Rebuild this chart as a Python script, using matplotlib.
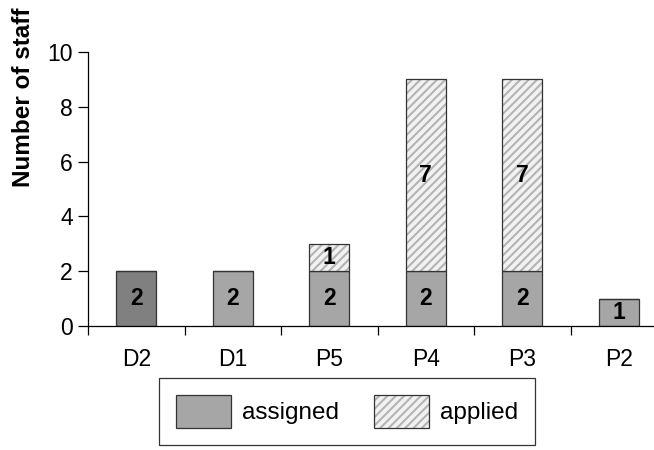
import matplotlib.pyplot as plt
import matplotlib as mpl
import numpy as np

categories = ["D2", "D1", "P5", "P4", "P3", "P2"]
assigned = [2, 2, 2, 2, 2, 1]
applied = [0, 0, 1, 7, 7, 0]
assigned_colors = ["#808080", "#a6a6a6", "#a6a6a6", "#a6a6a6", "#a6a6a6", "#a6a6a6"]

mpl.rcParams["font.family"] = ["Liberation Sans", "DejaVu Sans"]
mpl.rcParams["hatch.linewidth"] = 1.5

fig = plt.figure(figsize=(6.54, 4.5), dpi=100)
# axes spans 6 category slots; the last slot runs past the right edge
ax = fig.add_axes([88 / 654, 124 / 450, 579 / 654, 274 / 450])

x = np.arange(len(categories))
width = 0.41

bars_a = ax.bar(x, assigned, width, color=assigned_colors, edgecolor="#333333",
                linewidth=0.9, label="assigned", zorder=2)
bars_p = ax.bar(x, applied, width, bottom=assigned, color="#f2f2f2",
                edgecolor="#333333", linewidth=0.9, hatch="////",
                label="applied", zorder=2)
for b in bars_p:
    b._hatch_color = mpl.colors.to_rgba("#b4b4b4")

for xi, a, p in zip(x, assigned, applied):
    ax.text(xi, a / 2, str(a), ha="center", va="center", fontsize=16.5,
            fontweight="bold", zorder=3)
    if p:
        ax.text(xi, a + p / 2, str(p), ha="center", va="center", fontsize=16.5,
                fontweight="bold", zorder=3)

ax.set_xlim(-0.5, len(categories) - 0.5)
ax.set_ylim(0, 10)
ax.set_yticks([0, 2, 4, 6, 8, 10])
ax.set_xticks(x)
ax.set_xticklabels(categories)
ax.set_xticks(np.arange(-0.5, len(categories)), minor=True)
ax.tick_params(axis="x", which="major", length=0, pad=16, labelsize=16.5)
ax.tick_params(axis="x", which="minor", length=6.5, direction="out", width=0.9)
ax.tick_params(axis="y", length=7, direction="out", width=0.9, labelsize=16.5, pad=4)

for s in ["top", "right"]:
    ax.spines[s].set_visible(False)
ax.spines["left"].set_linewidth(0.9)
ax.spines["bottom"].set_linewidth(0.9)

fig.text(24 / 654, 1 - 97 / 450, "Number of staff", rotation=90, ha="center",
         va="center", fontsize=17.5, fontweight="bold")

leg = fig.legend(handles=[bars_a[1], bars_p[3]], labels=["assigned", "applied"],
                 loc="center", bbox_to_anchor=(347 / 654, 1 - 411.5 / 450),
                 ncol=2, frameon=True, fancybox=False, fontsize=17.5,
                 handlelength=2.25, handleheight=1.75, columnspacing=1.45,
                 borderpad=0.7, handletextpad=0.45, borderaxespad=0,
                 edgecolor="black")
leg.get_frame().set_linewidth(0.9)
for h in leg.legend_handles:
    if h.get_hatch():
        h._hatch_color = mpl.colors.to_rgba("#b4b4b4")

fig.savefig("out.png", dpi=100)
